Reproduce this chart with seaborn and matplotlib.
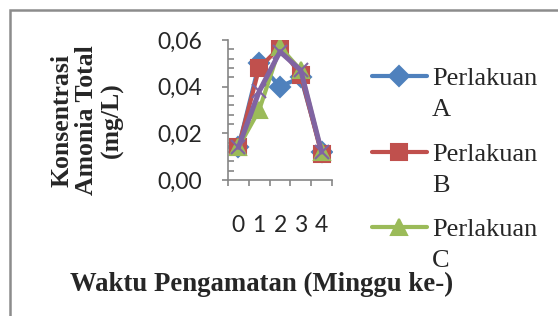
import matplotlib
matplotlib.use("Agg")
import matplotlib.pyplot as plt
import matplotlib.ticker as mticker
from matplotlib.patches import Rectangle
import pandas as pd
import seaborn as sns

# ---------------------------------------------------------------------
# Data
# ---------------------------------------------------------------------
minggu = ["0", "1", "2", "3", "4"]
perlakuan_a = [0.014, 0.050, 0.040, 0.044, 0.012]
perlakuan_b = [0.014, 0.048, 0.057, 0.045, 0.011]
perlakuan_c = [0.014, 0.030, 0.057, 0.047, 0.012]
perlakuan_d = [0.014, 0.038, 0.055, 0.047, 0.012]
legend_letters = ["A", "B", "C", "D"]

series = [
    (perlakuan_a, "#4F81BD", "D", 10, 3),
    (perlakuan_b, "#C0504D", "s", 11.5, 3),
    (perlakuan_c, "#9BBB59", "^", 11.5, 3),
    (perlakuan_d, "#8064A2", "x", 10, 3.6),
]

sns.set_style("ticks")
plt.rcParams["font.family"] = ["Lato", "DejaVu Sans"]

fig = plt.figure(figsize=(5.58, 3.16), dpi=100)
ax = fig.add_axes([228 / 558, 1 - 180 / 316, 104 / 558, 140 / 316])

x_pos = list(range(len(minggu)))
for (vals, color, marker, ms, lw), letter in zip(series, legend_letters):
    df = pd.DataFrame({"x": x_pos, "y": vals})
    sns.lineplot(
        data=df, x="x", y="y", ax=ax, color=color, linewidth=lw,
        marker=marker, markersize=ms, markeredgecolor=color,
        markeredgewidth=1.5, label="Perlakuan", legend=False,
    )

# axes styling
ax.set_xlim(-0.5, len(minggu) - 0.5)
ax.set_ylim(0, 0.06)
ax.set_xticks(x_pos)
ax.set_xticklabels(minggu, fontsize=16.5)
ax.tick_params(axis="x", which="major", length=0, pad=25)
ax.set_xticks([i - 0.5 for i in range(len(minggu) + 1)], minor=True)
ax.tick_params(axis="x", which="minor", length=4.5, width=1.2, color="#868686")

ax.set_yticks([0, 0.02, 0.04, 0.06])
ax.yaxis.set_major_formatter(mticker.FuncFormatter(lambda v, p: f"{v:.2f}".replace(".", ",")))
ax.yaxis.set_minor_locator(mticker.MultipleLocator(0.004))
ax.tick_params(axis="y", which="major", length=4.5, width=1.2, color="#868686",
               labelsize=16.5, pad=14)
ax.tick_params(axis="y", which="minor", direction="in", length=4, width=1.2,
               color="#868686")

for s in ["top", "right"]:
    ax.spines[s].set_visible(False)
for s in ["left", "bottom"]:
    ax.spines[s].set_color("#868686")
    ax.spines[s].set_linewidth(1.2)
ax.set_xlabel("")
ax.set_ylabel("")

# axis titles
fig.text(87 / 558, 1 - 120 / 316, "Konsentrasi\nAmonia Total\n(mg/L)",
         rotation=90, ha="center", va="center", multialignment="center",
         fontsize=18.5, fontweight="bold", family="Liberation Serif",
         linespacing=1.1)
fig.text(262 / 558, 1 - 284 / 316, "Waktu Pengamatan (Minggu ke-)",
         ha="center", va="center", fontsize=19.3, fontweight="bold",
         family="Liberation Serif")

# legend (only A, B, C visible in the reference); second text line added below
handles, labels = ax.get_legend_handles_labels()
leg = fig.legend(handles[:3], labels[:3], loc="upper left",
                 bbox_to_anchor=(372 / 558, 1 - 67 / 316),
                 frameon=False, handlelength=2.08, handletextpad=0.2,
                 labelspacing=1.97, borderaxespad=0, borderpad=0,
                 prop={"family": "Liberation Serif", "size": 19})

fig.canvas.draw()
for txt, letter in zip(leg.get_texts(), legend_letters):
    bb = txt.get_window_extent()
    fig.text(bb.x0 / fig.bbox.width, ((bb.y0 + bb.y1) / 2 - 31) / fig.bbox.height,
             letter, ha="left", va="center", family="Liberation Serif", fontsize=19)

# chart-area border (only left and top edges in view)
fig.add_artist(Rectangle((10 / 558, -1), 2, 1 + 1 - 10 / 316,
                         transform=fig.transFigure, fill=False,
                         edgecolor="#8C8C8C", linewidth=1.8))

fig.savefig("out.png", dpi=100)
